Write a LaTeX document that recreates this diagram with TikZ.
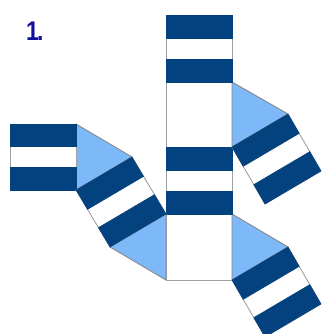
\documentclass[tikz,border=0pt]{standalone}
\usepackage{xcolor}
\usepackage{fontspec}
\setmainfont{Liberation Sans}
\usetikzlibrary{calc}
\definecolor{stripeblue}{HTML}{04417F}
\definecolor{triblue}{HTML}{7DB9F9}
\definecolor{edgegray}{HTML}{A0A0A0}
\definecolor{numblue}{HTML}{10109A}

\begin{document}
\begin{tikzpicture}[
  x=1pt, y=-1pt,
  facet/.style={draw=edgegray, line width=0.9pt, fill=white, line join=round},
  tri/.style={draw=edgegray!85!black, line width=0.9pt, fill=triblue, line join=round},
  stripe/.style={draw=stripeblue, line width=0.5pt, fill=stripeblue},
  numlabel/.style={font=\bfseries\fontsize{27}{27}\selectfont, text=numblue, inner sep=0pt}
]
\useasboundingbox (0,0) rectangle (321,334);
\clip (0,0) rectangle (321,334);

% Corners
\coordinate (t1) at (166,15);
\coordinate (t2) at (232,15);
\coordinate (t3) at (232,82);
\coordinate (t4) at (166,82);
\coordinate (m1) at (166,147);
\coordinate (m2) at (232,147);
\coordinate (m3) at (232,214);
\coordinate (m4) at (166,214);
\coordinate (b3) at (232,280);
\coordinate (b4) at (166,280);
\coordinate (l1) at (10,124);
\coordinate (l2) at (76,124);
\coordinate (l3) at (76,190);
\coordinate (l4) at (10,190);
\coordinate (s1) at (132,157);
\coordinate (s4) at (110,247);
\coordinate (u1) at (288,114);
\coordinate (u3) at (265,204);
\coordinate (u4) at (321,171);
\coordinate (v1) at (288,247);
\coordinate (v3) at (265,337);
\coordinate (v4) at (321,304);

% Squares
\draw[facet] (t4) rectangle (m2);
\draw[facet] (m4) rectangle (b3);

% Triangles
\draw[tri] (l2) -- (s1) -- (l3) -- cycle;
\draw[tri] (m4) -- (s4) -- (b4) -- cycle;
\draw[tri] (t3) -- (u1) -- (m2) -- cycle;
\draw[tri] (m3) -- (v1) -- (b3) -- cycle;

% Striped strips
\foreach \pa/\pb/\pc/\pd in {t1/t2/t3/t4, m1/m2/m3/m4, l1/l2/l3/l4,
    s1/l3/s4/m4, u1/m2/u3/u4, v1/b3/v3/v4} {
  \draw[facet] (\pa) -- (\pb) -- (\pc) -- (\pd) -- cycle;
  \draw[stripe] (\pa) -- (\pb) -- ($(\pb)!0.34!(\pc)$) -- ($(\pa)!0.34!(\pd)$) -- cycle;
  \draw[stripe] ($(\pa)!0.66!(\pd)$) -- ($(\pb)!0.66!(\pc)$) -- (\pc) -- (\pd) -- cycle;
}

% Number
\node[numlabel, anchor=base west, xscale=0.85] (num) at (26,41) {1\kern-2pt.};

\end{tikzpicture}
\end{document}
